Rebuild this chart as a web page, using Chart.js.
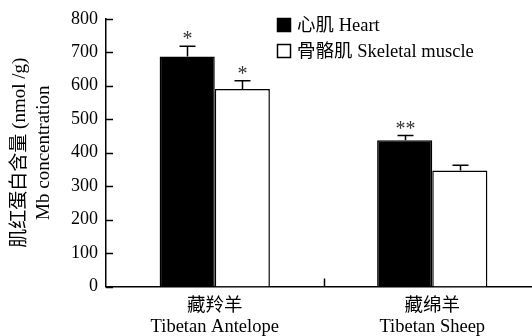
<!DOCTYPE html>
<html>
<head>
<meta charset="utf-8">
<script src="https://cdn.jsdelivr.net/npm/chart.js@4.4.1/dist/chart.umd.min.js"></script>
<style>
html,body{margin:0;padding:0;background:#fff;overflow:hidden;width:532px;height:336px;}
canvas{display:block;}
</style>
</head>
<body>
<canvas id="c" width="545" height="336" style="width:545px;height:336px;"></canvas>
<script>
const categories = [["藏羚羊", "Tibetan Antelope"], ["藏绵羊", "Tibetan Sheep"]];
const heartValues = [687, 437];
const heartErrors = [31, 14];
const heartMarks = ["*", "**"];
const skeletalValues = [590, 347];
const skeletalErrors = [25, 15];
const skeletalMarks = ["*", ""];
const seriesLabels = ["心肌 Heart", "骨骼肌 Skeletal muscle"];
const yTitle = ["肌红蛋白含量 (nmol /g)", "Mb concentration"];
const yMin = 0, yMax = 800, yStep = 100;

const FONT = "'Liberation Serif', 'Times New Roman', 'Noto Sans CJK SC', serif";

const extras = {
  id: 'extras',
  afterDatasetsDraw(chart) {
    const ctx = chart.ctx;
    const y = chart.scales.y, x = chart.scales.x;
    const area = chart.chartArea;
    ctx.save();
    ctx.strokeStyle = '#000';
    ctx.lineWidth = 1.5;
    // inward y ticks
    y.ticks.forEach((t, i) => {
      const py = Math.round(y.getPixelForTick(i)) + 0.5;
      ctx.beginPath(); ctx.moveTo(area.left, py); ctx.lineTo(area.left + 7, py); ctx.stroke();
    });
    // category boundary ticks
    for (let i = 0; i < categories.length - 1; i++) {
      const px = Math.round((x.getPixelForValue(i) + x.getPixelForValue(i + 1)) / 2) + 0.5;
      ctx.beginPath(); ctx.moveTo(px, area.bottom); ctx.lineTo(px, area.bottom - 8); ctx.stroke();
    }
    // error bars + significance marks
    const errs = [heartErrors, skeletalErrors];
    const marks = [heartMarks, skeletalMarks];
    chart.data.datasets.forEach((ds, di) => {
      const meta = chart.getDatasetMeta(di);
      meta.data.forEach((bar, i) => {
        const v = ds.data[i];
        const top = y.getPixelForValue(v);
        const cap = y.getPixelForValue(v + errs[di][i]);
        const bx = Math.round(bar.x) + 0.5;
        ctx.strokeStyle = '#000';
        ctx.lineWidth = 1.5;
        ctx.beginPath();
        ctx.moveTo(bx, top); ctx.lineTo(bx, cap);
        ctx.moveTo(bx - 8, cap); ctx.lineTo(bx + 8, cap);
        ctx.stroke();
        if (marks[di][i]) {
          ctx.fillStyle = '#333';
          ctx.font = "20px " + FONT;
          ctx.textAlign = 'center';
          ctx.textBaseline = 'alphabetic';
          ctx.fillText(marks[di][i], bx, cap - 1);
        }
      });
    });
    // legend
    const lx = 277, ly0 = 25, lstep = 26;
    chart.data.datasets.forEach((ds, di) => {
      const cy = ly0 + di * lstep;
      ctx.fillStyle = ds.backgroundColor;
      ctx.fillRect(lx, cy - 7, 14, 14);
      ctx.strokeStyle = '#000';
      ctx.lineWidth = 1.5;
      ctx.strokeRect(lx + 0.5, cy - 6.5, 13, 13);
      ctx.fillStyle = '#000';
      ctx.font = "18.5px " + FONT;
      ctx.textAlign = 'left';
      ctx.textBaseline = 'middle';
      ctx.fillText(ds.label, lx + 20, cy + 1);
    });
    ctx.restore();
  }
};

new Chart(document.getElementById('c'), {
  type: 'bar',
  data: {
    labels: categories,
    datasets: [
      { label: seriesLabels[0], data: heartValues, backgroundColor: '#000', borderColor: '#000', borderWidth: 1.5 },
      { label: seriesLabels[1], data: skeletalValues, backgroundColor: '#fff', borderColor: '#000', borderWidth: 1.5 }
    ]
  },
  options: {
    responsive: false,
    animation: false,
    devicePixelRatio: 1,
    layout: { padding: { top: 18, right: 4, left: 0, bottom: 0 } },
    datasets: { bar: { categoryPercentage: 0.507, barPercentage: 1.0 } },
    plugins: { legend: { display: false }, tooltip: { enabled: false } },
    scales: {
      x: {
        grid: { display: false, drawTicks: false },
        border: { display: true, color: '#000', width: 1.5 },
        ticks: { color: '#000', font: { family: FONT, size: 18.5, lineHeight: 1.14 }, padding: 9, maxRotation: 0, autoSkip: false },
        afterFit(s) { s.height = 49.5; }
      },
      y: {
        min: yMin, max: yMax,
        grid: { display: false, drawTicks: false },
        border: { display: true, color: '#000', width: 1.5 },
        ticks: { stepSize: yStep, color: '#000', font: { family: FONT, size: 18 }, padding: 8 },
        title: { display: true, text: yTitle, color: '#000', font: { family: FONT, size: 19, lineHeight: 1.28 }, padding: { top: 8, bottom: 0 } },
        afterFit(s) { s.width = 106; }
      }
    }
  },
  plugins: [extras]
});
</script>
</body>
</html>
